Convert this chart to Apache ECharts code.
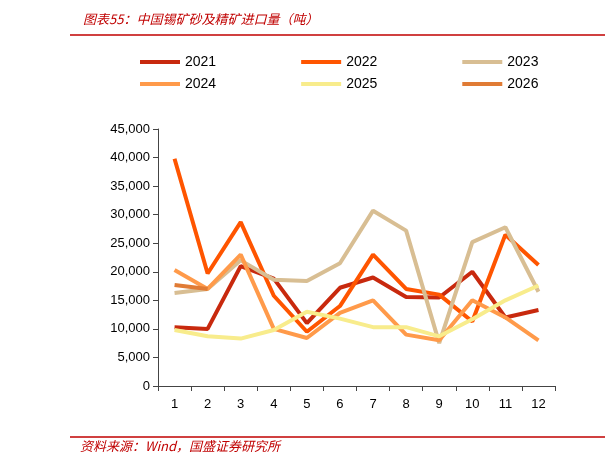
<!DOCTYPE html>
<html><head><meta charset="utf-8">
<script src="https://cdn.jsdelivr.net/npm/echarts@6/dist/echarts.min.js"></script>
<style>html,body{margin:0;padding:0;background:#fff}#c{width:605px;height:467px}</style>
</head><body><div id="c"></div>
<script>
const months = ['1','2','3','4','5','6','7','8','9','10','11','12'];
const y2021 = [10300, 10000, 21000, 18800, 11000, 17200, 19000, 15600, 15500, 20000, 12000, 13300];
const y2022 = [39800, 19700, 28700, 15800, 9500, 14000, 23000, 17000, 16000, 11300, 26500, 21200];
const y2023 = [16300, 17000, 22000, 18600, 18400, 21500, 30700, 27200, 7500, 25200, 27800, 16500];
const y2024 = [20300, 17000, 23000, 10000, 8400, 12800, 15000, 9000, 8000, 15000, 12000, 8000];
const y2025 = [9800, 8700, 8300, 9800, 13000, 11800, 10300, 10300, 8700, 11700, 15000, 17600];
const y2026 = [17700, 17000];
const names = ['2021', '2022', '2023', '2024', '2025', '2026'];
const colors = ['#C8290E', '#FF5500', '#D8BE93', '#FF9A4A', '#F8EC8C', '#E07B35'];
const datas = [y2021, y2022, y2023, y2024, y2025, y2026];

const chart = echarts.init(document.getElementById('c'));
const font = '"Noto Sans CJK SC", "Noto Sans", sans-serif';
chart.setOption({
  animation: false,
  color: colors,
  title: {
    text: '图表55：中国锡矿砂及精矿进口量（吨）',
    left: 78, top: 8,
    textStyle: { color: '#C00000', fontSize: 13, fontWeight: 'normal', fontStyle: 'italic', fontFamily: font }
  },
  graphic: [
    { type: 'line', shape: { x1: 70, y1: 35, x2: 605, y2: 35 }, style: { stroke: '#C00000', lineWidth: 1.5 } },
    { type: 'line', shape: { x1: 70, y1: 437, x2: 605, y2: 437 }, style: { stroke: '#C00000', lineWidth: 1.5 } },
    { type: 'text', left: 80, top: 440, style: { text: '资料来源：Wind，国盛证券研究所', fill: '#C00000', font: 'italic 13px ' + font } }
  ],
  legend: [0, 1].map(r => ({
    data: names.slice(r * 3, r * 3 + 3),
    top: 50 + r * 22, left: 135,
    itemGap: 85, itemWidth: 40, itemHeight: 4,
    icon: 'rect',
    textStyle: { fontSize: 14, color: '#000', fontFamily: 'Liberation Sans, sans-serif', width: 40 }
  })),
  grid: { left: 158, right: 50, top: 129, bottom: 81 },
  xAxis: {
    type: 'category', data: months,
    axisLine: { lineStyle: { color: '#444' } },
    axisTick: { show: true, lineStyle: { color: '#444' } },
    axisLabel: { color: '#000', fontSize: 13, margin: 12 }
  },
  yAxis: {
    type: 'value', min: 0, max: 45000, interval: 5000,
    axisLine: { show: true, lineStyle: { color: '#444' } },
    axisTick: { show: true, lineStyle: { color: '#444' } },
    splitLine: { show: false },
    axisLabel: { color: '#000', fontSize: 13, formatter: v => v.toLocaleString('en-US') }
  },
  series: datas.map((d, i) => ({
    name: names[i], type: 'line', data: d, symbol: 'none',
    lineStyle: { width: 4, color: colors[i] }, z: i === 4 ? 10 : 2 + i
  }))
});
</script></body></html>
